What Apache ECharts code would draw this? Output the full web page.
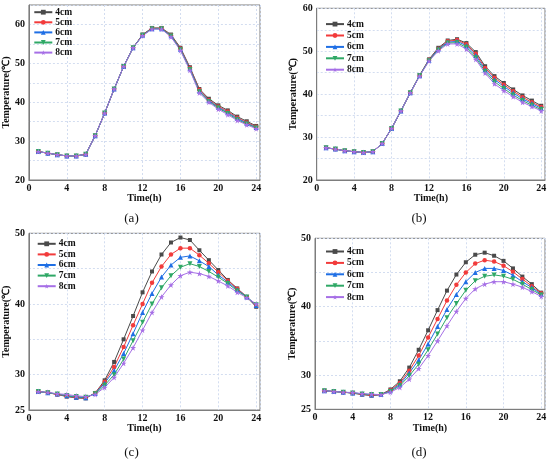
<!DOCTYPE html>
<html><head><meta charset="utf-8">
<script src="https://cdn.jsdelivr.net/npm/echarts@6/dist/echarts.min.js"></script>
<style>html,body{margin:0;padding:0;background:#fff}#c{width:550px;height:461px}</style>
</head><body><div id="c"></div>
<script>
const hours = [1,2,3,4,5,6,7,8,9,10,11,12,13,14,15,16,17,18,19,20,21,22,23,24];
const depths = ['4cm','5cm','6cm','7cm','8cm'];
const captions = ['(a)','(b)','(c)','(d)'];
const yTicksAB = [20,30,40,50,60];
const yTicksCD = [25,30,40,50];

const a4 = [27.3,26.9,26.5,26.2,26.2,26.6,31.4,37.2,43.4,49.2,54.0,57.4,59.1,59.1,57.4,54.0,49.0,43.4,40.9,39.2,37.9,36.3,35.1,33.9];
const a5 = [27.3,26.9,26.5,26.2,26.2,26.6,31.4,37.2,43.4,49.2,54.0,57.3,59.0,59.0,57.2,53.8,48.8,43.2,40.6,38.9,37.6,36.0,34.8,33.7];
const a6 = [27.3,26.9,26.5,26.2,26.2,26.6,31.4,37.2,43.4,49.2,54.0,57.2,58.9,58.9,57.1,53.6,48.6,42.9,40.4,38.7,37.3,35.8,34.6,33.5];
const a7 = [27.3,26.9,26.5,26.2,26.2,26.6,31.4,37.2,43.4,49.2,54.0,57.2,58.9,58.9,57.0,53.5,48.4,42.7,40.2,38.5,37.1,35.5,34.4,33.4];
const a8 = [27.3,26.9,26.5,26.2,26.2,26.6,31.4,37.2,43.4,49.2,54.0,57.1,58.8,58.8,56.8,53.3,48.2,42.4,40.0,38.2,36.8,35.3,34.2,33.2];

const b4 = [27.5,27.2,26.8,26.6,26.4,26.6,28.5,32.0,36.1,40.3,44.4,48.1,50.8,52.5,52.8,51.9,49.8,46.5,44.2,42.6,41.1,39.7,38.5,37.3];
const b5 = [27.5,27.2,26.8,26.6,26.4,26.6,28.5,32.0,36.1,40.3,44.3,48.0,50.6,52.3,52.6,51.6,49.4,46.1,43.8,42.2,40.7,39.3,38.1,37.0];
const b6 = [27.5,27.2,26.8,26.6,26.4,26.6,28.5,32.0,36.1,40.3,44.3,47.9,50.5,52.1,52.3,51.3,49.0,45.7,43.4,41.8,40.3,38.9,37.8,36.7];
const b7 = [27.5,27.2,26.8,26.6,26.4,26.6,28.5,32.0,36.1,40.3,44.3,47.8,50.3,51.9,52.0,50.9,48.5,45.3,42.9,41.3,39.8,38.5,37.4,36.4];
const b8 = [27.5,27.2,26.8,26.6,26.4,26.6,28.5,32.0,36.1,40.3,44.2,47.7,50.1,51.7,51.7,50.5,48.1,44.9,42.4,40.8,39.4,38.1,37.1,36.1];

const c4 = [27.6,27.45,27.2,26.9,26.7,26.65,27.4,29.2,31.8,35.0,38.3,41.65,44.6,47.0,48.7,49.4,49.05,47.6,46.2,44.8,43.4,42.2,41.0,39.6];
const c5 = [27.6,27.45,27.2,26.95,26.75,26.7,27.4,29.0,31.1,33.9,37.0,40.0,43.0,45.3,47.0,47.9,47.9,46.9,45.75,44.5,43.3,42.15,41.0,39.7];
const c6 = [27.6,27.45,27.25,27.0,26.8,26.75,27.35,28.8,30.6,33.0,35.8,38.8,41.5,43.8,45.5,46.6,46.8,46.1,45.3,44.1,43.1,42.0,41.0,39.8];
const c7 = [27.6,27.45,27.25,27.05,26.9,26.8,27.3,28.5,30.0,32.2,34.8,37.4,40.0,42.3,44.0,45.2,45.7,45.3,44.6,43.8,42.9,41.85,41.0,39.9];
const c8 = [27.6,27.5,27.3,27.2,27.0,26.9,27.2,28.2,29.6,31.6,33.8,36.3,38.8,41.0,42.7,44.0,44.5,44.3,43.9,43.25,42.55,41.65,40.9,40.0];

const d4 = [27.7,27.6,27.5,27.35,27.15,27.0,27.15,27.9,29.1,31.1,33.7,36.55,39.5,42.35,44.7,46.5,47.6,47.9,47.45,46.7,45.6,44.4,43.3,42.05];
const d5 = [27.7,27.6,27.5,27.4,27.2,27.05,27.15,27.8,28.85,30.65,32.85,35.5,38.2,40.9,43.2,45.0,46.3,46.8,46.6,46.0,45.1,44.05,43.0,41.95];
const d6 = [27.7,27.6,27.5,27.4,27.25,27.1,27.15,27.7,28.65,30.3,32.2,34.55,37.1,39.6,41.8,43.65,45.0,45.6,45.6,45.3,44.6,43.65,42.8,41.8];
const d7 = [27.7,27.6,27.5,27.4,27.25,27.15,27.15,27.6,28.45,29.9,31.6,33.7,36.0,38.4,40.45,42.4,43.8,44.45,44.65,44.45,44.0,43.3,42.5,41.7];
const d8 = [27.7,27.6,27.5,27.45,27.3,27.2,27.15,27.5,28.2,29.4,30.95,32.85,35.0,37.2,39.3,41.2,42.6,43.3,43.65,43.65,43.3,42.85,42.2,41.5];

const panels = [[a4,a5,a6,a7,a8],[b4,b5,b6,b7,b8],[c4,c5,c6,c7,c8],[d4,d5,d6,d7,d8]];

const colors = ['#4a4a4a','#f23b3b','#1f6fe5','#2fa866','#a66fe6'];
const star = 'path://M50,0 L61,35 L98,35 L68,57 L79,91 L50,70 L21,91 L32,57 L2,35 L39,35 Z';
const symbols = ['rect','circle','triangle','triangle',star];
const symRot = [0,0,0,180,0];
const symSize = [4,4.5,5,5,6];

const grids = [
  {left:26.7, top:5, width:233.3, height:175},
  {left:316.7, top:8.3, width:228.3, height:171.7},
  {left:26.7, top:233.3, width:233.3, height:176.7},
  {left:315, top:238.3, width:230, height:171}
];
const yRanges = [[20,65,yTicksAB],[20,60,yTicksAB],[25,50,yTicksCD],[25,50,yTicksCD]];
const nameGapsY = [13,13.5,13,13.5];
const legendPos = [
  {left:33.3, top:7.2, gap:0.1},
  {left:325, top:19.1, gap:1.4},
  {left:36.7, top:238.8, gap:0.6},
  {left:325, top:246.5, gap:1.4}
];
const captionPos = [[131.5,218.3],[419,218.3],[131.5,452.7],[419,452.7]];

const font = 'Liberation Serif, Times New Roman, serif';
const borderCol = '#7d7d7d';
const gridLine = {show:true, lineStyle:{color:'#d3ddf0', type:[2,2], width:1}};

const option = {
  animation:false,
  backgroundColor:'#fff',
  grid: grids.map(g => Object.assign({show:true, borderColor:borderCol, borderWidth:1, backgroundColor:'transparent'}, g)),
  xAxis: grids.map((g,i) => ({
    type:'value', gridIndex:i, min:0, max:24.4, interval:4,
    name:'Time(h)', nameLocation:'middle', nameGap:12,
    nameTextStyle:{fontFamily:font, fontWeight:'bold', fontSize:10, color:'#111'},
    axisLine:{show:true, lineStyle:{color:borderCol, width:1}},
    axisTick:{show:false},
    axisLabel:{margin:3, fontFamily:font, fontWeight:'bold', fontSize:10, color:'#111',
      formatter: v => (Math.abs(v % 4) < 1e-6 ? String(v) : '')},
    splitLine:gridLine
  })),
  yAxis: grids.map((g,i) => ({
    type:'value', gridIndex:i, min:yRanges[i][0], max:yRanges[i][1], interval:5,
    name:'Temperature(℃)', nameLocation:'middle', nameGap:nameGapsY[i],
    nameTextStyle:{fontFamily:font, fontWeight:'bold', fontSize:10, color:'#111'},
    axisLine:{show:true, lineStyle:{color:borderCol, width:1}},
    axisTick:{show:false},
    axisLabel:{margin:4, fontFamily:font, fontWeight:'bold', fontSize:10, color:'#111',
      formatter: v => (yRanges[i][2].indexOf(v) >= 0 ? String(v) : '')},
    splitLine:gridLine
  })),
  legend: legendPos.map((p,i) => ({
    orient:'vertical', left:p.left, top:p.top, padding:0,
    itemWidth:18, itemHeight:6, itemGap:p.gap,
    data:depths,
    textStyle:{fontFamily:font, fontWeight:'bold', fontSize:9.5, color:'#111', padding:[0,0,0,-2]}
  })),
  graphic: captions.map((t,i) => ({
    type:'text', x:captionPos[i][0], y:captionPos[i][1],
    style:{text:t, align:'center', verticalAlign:'middle', textAlign:'center', textVerticalAlign:'middle',
      font:'13px ' + font, fill:'#111'}
  })),
  series: []
};

panels.forEach((arrs,i) => {
  arrs.forEach((arr,k) => {
    option.series.push({
      type:'line', name:depths[k], xAxisIndex:i, yAxisIndex:i,
      data: hours.map((h,j) => [h, arr[j]]),
      symbol:symbols[k], symbolRotate:symRot[k], symbolSize:symSize[k],
      showAllSymbol:true,
      itemStyle:{color:colors[k]},
      lineStyle:{color:colors[k], width:1}
    });
  });
});

const chart = echarts.init(document.getElementById('c'), null, {renderer:'canvas'});
chart.setOption(option);
</script></body></html>
